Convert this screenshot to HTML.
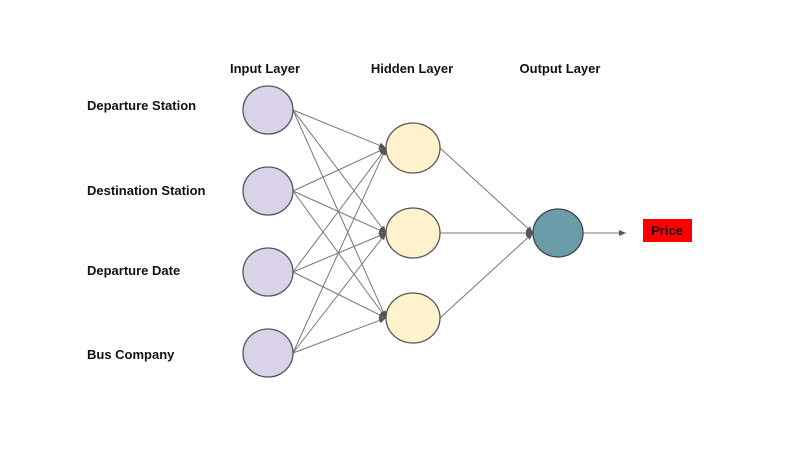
<!DOCTYPE html>
<html><head><style>
body{margin:0;background:#fff;width:800px;height:450px;overflow:hidden}
text{font-family:"Liberation Sans",sans-serif;font-weight:bold;font-size:13px;fill:#111}
</style></head><body>
<svg width="800" height="450" viewBox="0 0 800 450">
<defs><marker id="a" markerWidth="8" markerHeight="8" refX="7" refY="4" orient="auto" markerUnits="userSpaceOnUse"><path d="M0,1 L7,4 L0,7z" fill="#555"/></marker></defs>
<text x="265" y="73" text-anchor="middle">Input Layer</text>
<text x="412" y="73" text-anchor="middle">Hidden Layer</text>
<text x="560" y="73" text-anchor="middle">Output Layer</text>
<text x="87" y="110">Departure Station</text>
<text x="87" y="195">Destination Station</text>
<text x="87" y="275">Departure Date</text>
<text x="87" y="359">Bus Company</text>
<g stroke="#777" stroke-width="1" marker-end="url(#a)">
<line x1="293" y1="110" x2="386" y2="148"/><line x1="293" y1="110" x2="386" y2="233"/><line x1="293" y1="110" x2="386" y2="318"/>
<line x1="293" y1="191" x2="386" y2="148"/><line x1="293" y1="191" x2="386" y2="233"/><line x1="293" y1="191" x2="386" y2="318"/>
<line x1="293" y1="272" x2="386" y2="148"/><line x1="293" y1="272" x2="386" y2="233"/><line x1="293" y1="272" x2="386" y2="318"/>
<line x1="293" y1="353" x2="386" y2="148"/><line x1="293" y1="353" x2="386" y2="233"/><line x1="293" y1="353" x2="386" y2="318"/>
<line x1="440" y1="148" x2="533" y2="233"/><line x1="440" y1="233" x2="533" y2="233"/><line x1="440" y1="318" x2="533" y2="233"/>
<line x1="583" y1="233" x2="626" y2="233"/>
</g>
<g fill="#d9d2e9" stroke="#555" stroke-width="1.3">
<ellipse cx="268" cy="110" rx="25" ry="24"/><ellipse cx="268" cy="191" rx="25" ry="24"/><ellipse cx="268" cy="272" rx="25" ry="24"/><ellipse cx="268" cy="353" rx="25" ry="24"/>
</g>
<g fill="#fff2cc" stroke="#555" stroke-width="1.3">
<ellipse cx="413" cy="148" rx="27" ry="25"/><ellipse cx="413" cy="233" rx="27" ry="25"/><ellipse cx="413" cy="318" rx="27" ry="25"/>
</g>
<ellipse cx="558" cy="233" rx="25" ry="24" fill="#6b9ca9" stroke="#444" stroke-width="1.3"/>
<rect x="643" y="219" width="49" height="23" fill="#f00"/>
<text x="651" y="235" font-size="12">Price</text>
</svg>
</body></html>
